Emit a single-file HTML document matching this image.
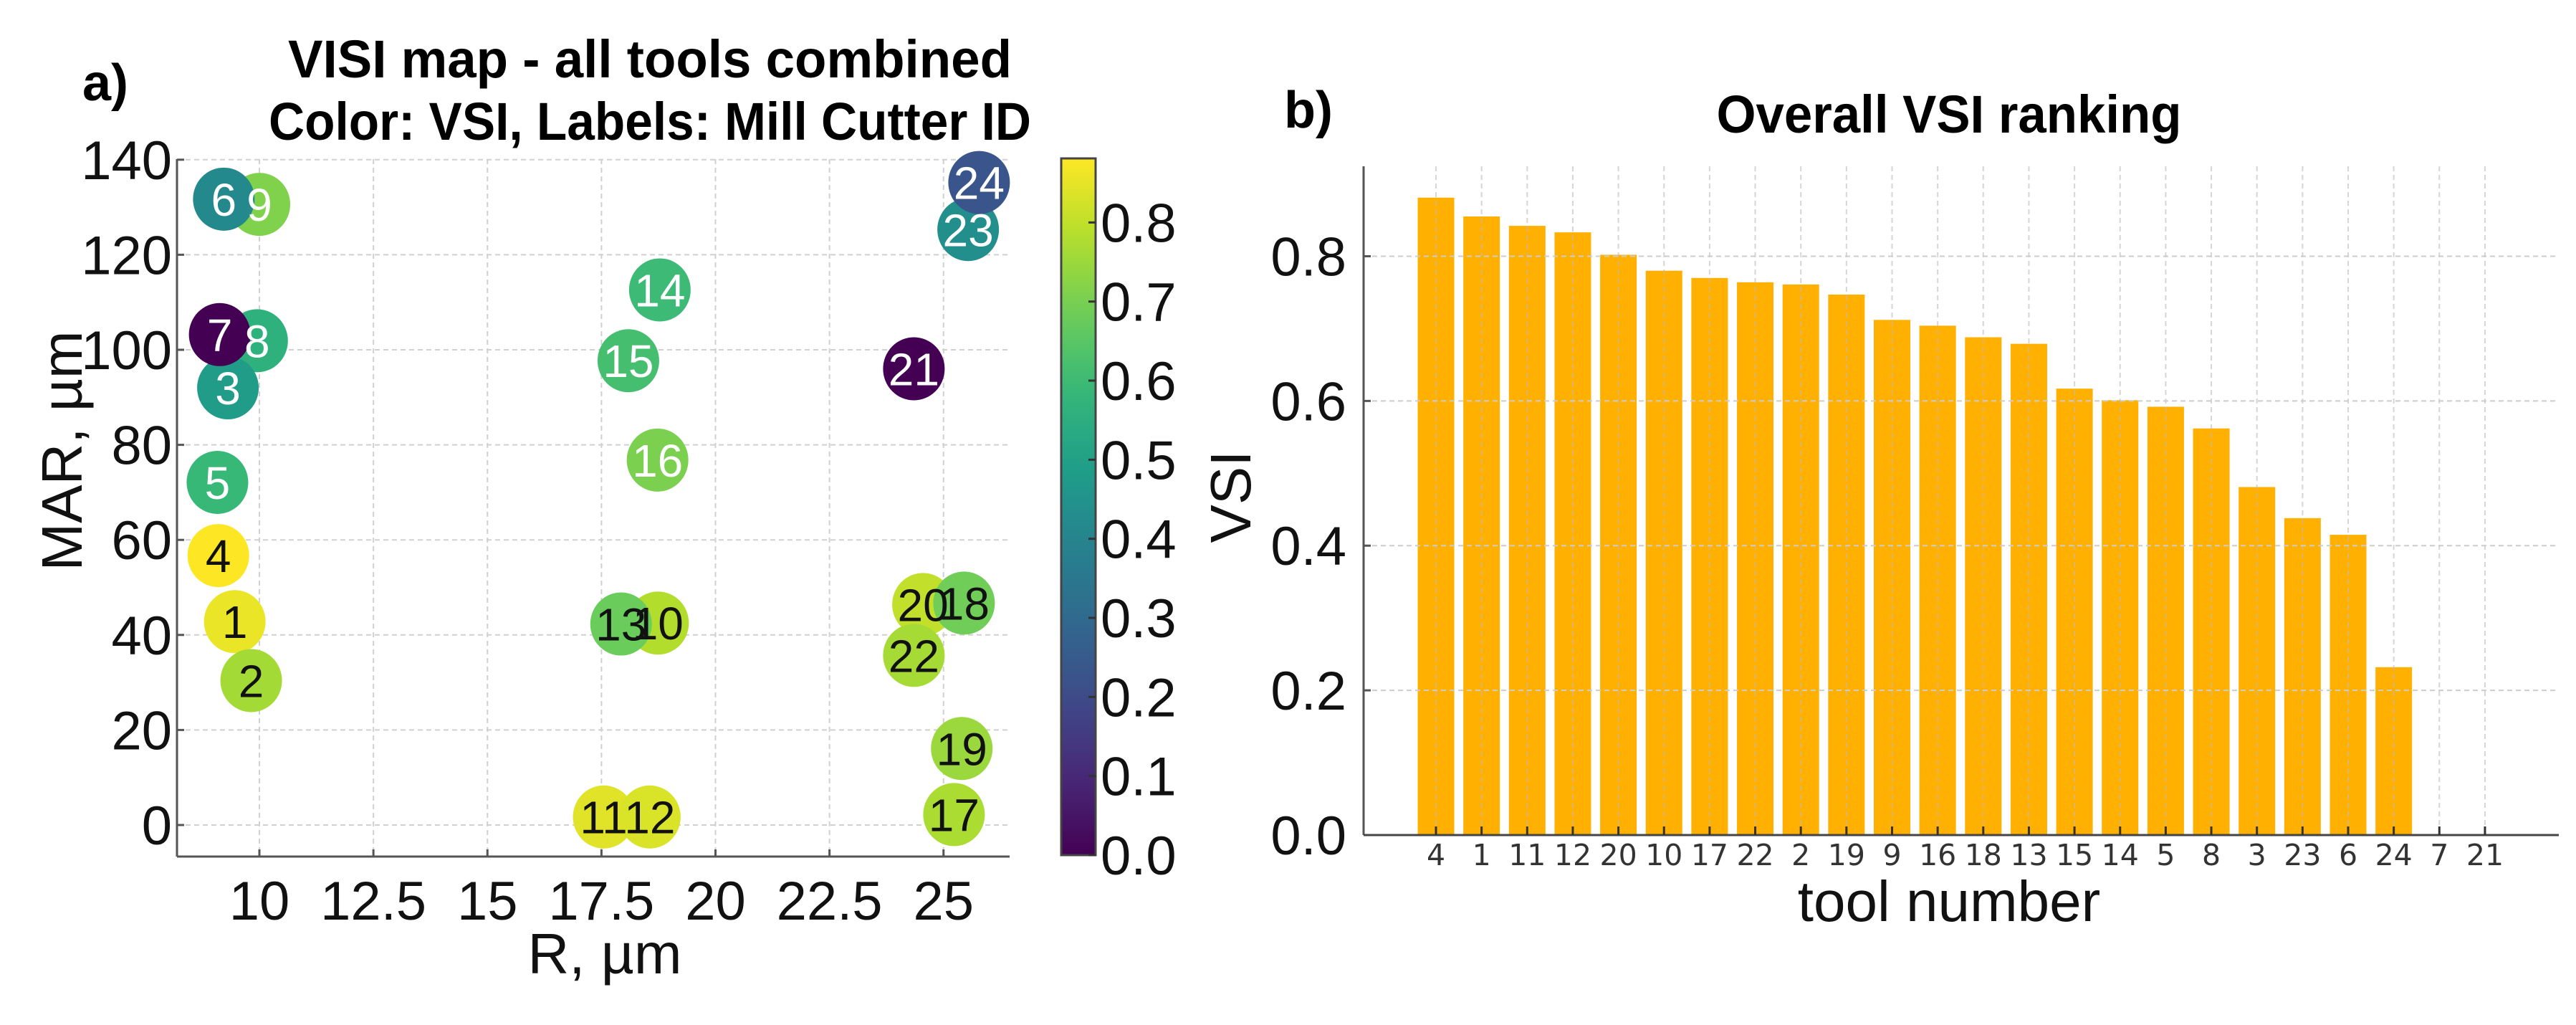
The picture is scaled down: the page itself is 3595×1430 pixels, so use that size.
<!DOCTYPE html>
<html><head><meta charset="utf-8"><style>
html,body{margin:0;padding:0;background:#fff}
svg{display:block}
text{font-family:"Liberation Sans",sans-serif}
</style></head><body>
<svg id="fig" xmlns="http://www.w3.org/2000/svg" width="3595" height="1430" viewBox="0 0 3595 1430">
<defs>
<linearGradient id="viridis" x1="0" y1="1" x2="0" y2="0"></linearGradient>
</defs>
<g id="left"></g>
<g id="right"></g>
</svg>
<script>
// ---- scatter data ----
const toolIds = [6,9,24,23,14,7,8,15,21,3,16,5,4,20,18,13,10,1,22,2,19,11,12,17];
const rValues = [9.22,10.0,25.78,25.54,18.78,9.13,9.95,18.09,24.35,9.31,18.73,9.08,9.10,24.55,25.45,17.93,18.74,9.46,24.35,9.82,25.40,17.55,18.56,25.23];
const marValues = [131.7,130.6,135.2,125.3,112.6,103.2,101.9,97.7,96.0,92.0,76.8,72.1,56.7,46.4,46.7,42.3,42.5,42.8,35.7,30.4,16.1,1.7,1.7,2.2];
const whiteLabel = [1,1,1,1,1,1,1,1,1,1,1,1,0,0,0,0,0,0,0,0,0,0,0,0];
const xTicks = [10,12.5,15,17.5,20,22.5,25];
const xTickLabels = ["10","12.5","15","17.5","20","22.5","25"];
const yTicks = [0,20,40,60,80,100,120,140];
const cbTicks = [0.0,0.1,0.2,0.3,0.4,0.5,0.6,0.7,0.8];
// ---- bar data ----
const rankTools = ["4","1","11","12","20","10","17","22","2","19","9","16","18","13","15","14","5","8","3","23","6","24","7","21"];
const rankVSI = [0.881,0.855,0.842,0.833,0.802,0.780,0.770,0.764,0.761,0.747,0.712,0.704,0.688,0.679,0.617,0.601,0.592,0.562,0.481,0.438,0.415,0.232,0,0];
const barYTicks = [0.0,0.2,0.4,0.6,0.8];

const NS="http://www.w3.org/2000/svg";
function mk(parent,tag,attrs,txt){const e=document.createElementNS(NS,tag);for(const k in attrs)e.setAttribute(k,attrs[k]);if(txt!==undefined)e.textContent=txt;parent.appendChild(e);return e;}

const VIR=[[68,1,84],[72,40,120],[62,74,137],[49,104,142],[38,130,142],[31,158,137],[53,183,121],[109,205,89],[180,222,44],[253,231,37]];
function viridis(t){t=Math.max(0,Math.min(1,t));const p=t*(VIR.length-1);const i=Math.min(VIR.length-2,Math.floor(p));const f=p-i;const c=VIR[i].map((v,k)=>Math.round(v+(VIR[i+1][k]-v)*f));return `rgb(${c[0]},${c[1]},${c[2]})`;}
const vsiMap={};rankTools.forEach((t,i)=>vsiMap[t]=rankVSI[i]);
const vmax=Math.max(...rankVSI);

const grad=document.getElementById('viridis');
for(let i=0;i<=20;i++){mk(grad,'stop',{offset:(i/20),'stop-color':viridis(i/20)});}

// ---------- LEFT PANEL ----------
const L=document.getElementById('left');
const ax={x0:247,x1:1409,y0:1195,y1:222};
const xS=v=>362+(v-10)*63.65;
const yS=v=>1151-v*6.63;
xTicks.forEach((t,i)=>{
 const g=mk(L,'line',{x1:xS(t),x2:xS(t),y1:ax.y1,y2:ax.y0,stroke:'#d0d0d0','stroke-width':2,'stroke-dasharray':'7,5'});
 
});
yTicks.forEach(t=>{
 const g=mk(L,'line',{x1:ax.x0,x2:ax.x1,y1:yS(t),y2:yS(t),stroke:'#d0d0d0','stroke-width':2,'stroke-dasharray':'7,5'});
 
});
const sp1=mk(L,'line',{x1:ax.x0,x2:ax.x0,y1:ax.y1,y2:ax.y0,stroke:'#555','stroke-width':3});

const sp2=mk(L,'line',{x1:ax.x0,x2:ax.x1,y1:ax.y0,y2:ax.y0,stroke:'#555','stroke-width':3});

xTicks.forEach((t,i)=>{
 mk(L,'line',{x1:xS(t),x2:xS(t),y1:ax.y0,y2:ax.y0-10,stroke:'#555','stroke-width':3});
 const tx=mk(L,'text',{x:xS(t),y:1283,'font-size':76,'text-anchor':'middle',fill:'#111'},xTickLabels[i]);
 
});
yTicks.forEach(t=>{
 mk(L,'line',{x1:ax.x0,x2:ax.x0+10,y1:yS(t),y2:yS(t),stroke:'#555','stroke-width':3});
 const tx=mk(L,'text',{x:240,y:yS(t)+27,'font-size':76,'text-anchor':'end',fill:'#111'},String(t));
 
});
const order=toolIds.map((_,i)=>i).sort((a,b)=>vsiMap[toolIds[b]]-vsiMap[toolIds[a]]);
order.forEach(i=>{
 const c=mk(L,'ellipse',{cx:xS(rValues[i]),cy:yS(marValues[i]),rx:43,ry:44,fill:viridis(vsiMap[toolIds[i]]/vmax)});
 
});
order.forEach(i=>{
 const t=mk(L,'text',{x:xS(rValues[i]),y:yS(marValues[i])+23,'font-size':64,'text-anchor':'middle',fill:whiteLabel[i]?'#fff':'#111'},String(toolIds[i]));
 
});
let t1=mk(L,'text',{x:115,y:140,'font-size':72,'font-weight':'bold',fill:'#000'},'a)');

let t2=mk(L,'text',{x:907,y:108,'font-size':74,'font-weight':'bold','text-anchor':'middle',textLength:1010,lengthAdjust:'spacingAndGlyphs'},'VISI map - all tools combined');

let t3=mk(L,'text',{x:907,y:195,'font-size':74,'font-weight':'bold','text-anchor':'middle',textLength:1064,lengthAdjust:'spacingAndGlyphs'},'Color: VSI, Labels: Mill Cutter ID');

let xl=mk(L,'text',{x:844,y:1358,'font-size':80,'text-anchor':'middle',fill:'#111'},'R, µm');

let yl=mk(L,'text',{x:0,y:0,'font-size':80,'text-anchor':'middle',fill:'#111',transform:'translate(114,629) rotate(-90)'},'MAR, µm');

const cb={x:1481,w:48,top:221,bot:1193};
const cbS=v=>cb.bot-(v/vmax)*(cb.bot-cb.top);
let cr=mk(L,'rect',{x:cb.x,y:cb.top,width:cb.w,height:cb.bot-cb.top,fill:'url(#viridis)',stroke:'#444','stroke-width':3});

cbTicks.forEach(v=>{
 mk(L,'line',{x1:cb.x+cb.w-10,x2:cb.x+cb.w,y1:cbS(v),y2:cbS(v),stroke:'#333','stroke-width':3});
 const tx=mk(L,'text',{x:1536,y:cbS(v)+27,'font-size':76,fill:'#111'},v.toFixed(1));
 
});
let cl=mk(L,'text',{x:0,y:0,'font-size':80,'text-anchor':'middle',fill:'#111',transform:'translate(1745,693) rotate(-90)'},'VSI');


// ---------- RIGHT PANEL ----------
const R=document.getElementById('right');
const bx={x0:1903,x1:3571,y0:1165,y1:232};
const bxS=i=>2004+i*63.65;
const byS=v=>1165-v*1009.4;
const bw=51;
rankTools.forEach((t,i)=>{
 const r=mk(R,'rect',{x:bxS(i)-bw/2,y:byS(rankVSI[i]),width:bw,height:byS(0)-byS(rankVSI[i]),fill:'#FFB000'});
 
});
rankTools.forEach((t,i)=>{
 const g=mk(R,'line',{x1:bxS(i),x2:bxS(i),y1:bx.y1,y2:bx.y0,stroke:'#bbb','stroke-opacity':0.6,'stroke-width':2,'stroke-dasharray':'7,5'});
 
});
barYTicks.forEach(v=>{
 const g=mk(R,'line',{x1:bx.x0,x2:bx.x1,y1:byS(v),y2:byS(v),stroke:'#ccc','stroke-width':2,'stroke-dasharray':'7,5'});
 
 mk(R,'line',{x1:bx.x0,x2:bx.x0+10,y1:byS(v),y2:byS(v),stroke:'#555','stroke-width':3});
 const tx=mk(R,'text',{x:1879,y:byS(v)+27,'font-size':76,'text-anchor':'end',fill:'#111'},v.toFixed(1));
 
});
const s1=mk(R,'line',{x1:bx.x0,x2:bx.x0,y1:bx.y1,y2:bx.y0,stroke:'#555','stroke-width':3});

const s2=mk(R,'line',{x1:bx.x0,x2:bx.x1,y1:bx.y0,y2:bx.y0,stroke:'#444','stroke-width':3});

rankTools.forEach((t,i)=>{
 mk(R,'line',{x1:bxS(i),x2:bxS(i),y1:bx.y0,y2:bx.y0-12,stroke:'#333','stroke-width':3});
 const tx=mk(R,'text',{x:bxS(i),y:1207,'font-size':41,'text-anchor':'middle',fill:'#333',style:'font-family:"DejaVu Sans",sans-serif'},t);
 
});
let b1=mk(R,'text',{x:1792,y:178,'font-size':72,'font-weight':'bold'},'b)');

let b2=mk(R,'text',{x:2720,y:185,'font-size':74,'font-weight':'bold','text-anchor':'middle',textLength:649,lengthAdjust:'spacingAndGlyphs'},'Overall VSI ranking');

let b3=mk(R,'text',{x:2720,y:1285,'font-size':80,'text-anchor':'middle',fill:'#111'},'tool number');

</script>
</body></html>
